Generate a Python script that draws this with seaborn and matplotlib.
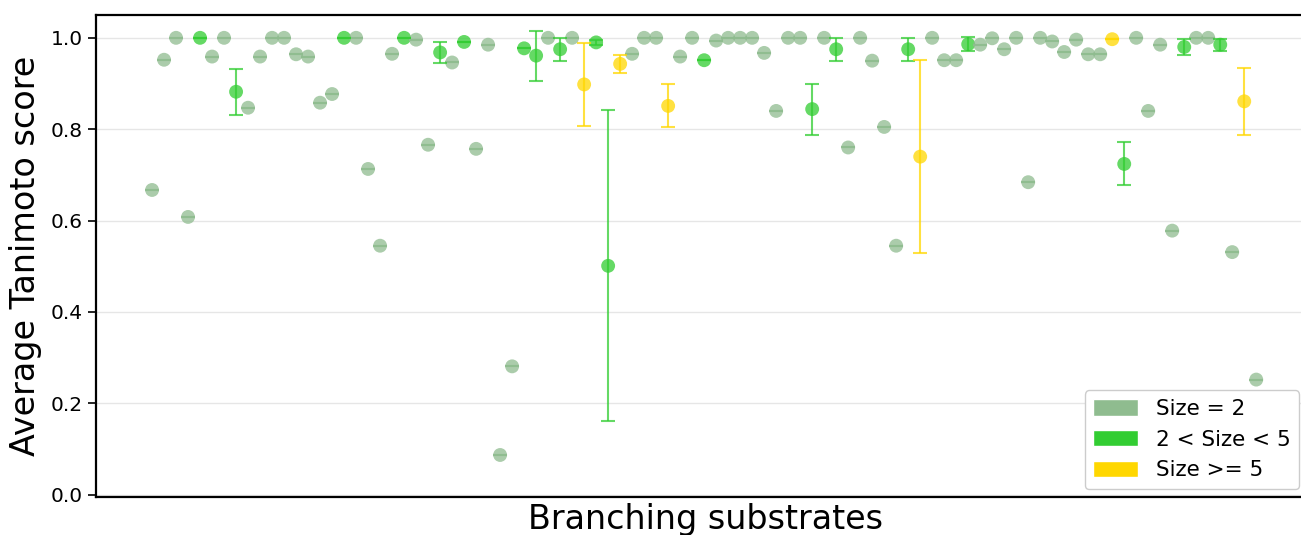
import seaborn as sns
import numpy as np
import pandas as pd
import matplotlib.pyplot as plt
from matplotlib.patches import Patch

# average score per branching substrate, in plotting order
scores = [0.667, 0.952, 1.0, 0.608, 1.0, 0.959, 1.0, 0.882, 0.847, 0.959,
          1.0, 1.0, 0.964, 0.959, 0.858, 0.877, 1.0, 1.0, 0.713, 0.545,
          0.965, 1.0, 0.996, 0.766, 0.968, 0.946, 0.991, 0.757, 0.985, 0.087,
          0.281, 0.977, 0.961, 1.0, 0.975, 1.0, 0.898, 0.99, 0.501, 0.943,
          0.965, 1.0, 1.0, 0.851, 0.959, 1.0, 0.951, 0.994, 1.0, 1.0,
          1.0, 0.967, 0.840, 1.0, 1.0, 0.844, 1.0, 0.975, 0.760, 1.0,
          0.950, 0.805, 0.545, 0.975, 0.740, 1.0, 0.951, 0.951, 0.986, 0.985,
          0.999, 0.975, 1.0, 0.684, 1.0, 0.992, 0.969, 0.996, 0.964, 0.964,
          0.997, 0.724, 1.0, 0.840, 0.985, 0.578, 0.98, 1.0, 1.0, 0.985,
          0.531, 0.861, 0.252]

# standard deviation (error bar half length)
errs = [0, 0, 0, 0, 0, 0, 0, 0.05, 0, 0,
        0, 0, 0, 0, 0, 0, 0, 0, 0, 0,
        0, 0, 0, 0, 0.023, 0, 0, 0, 0, 0,
        0, 0, 0.055, 0, 0.025, 0, 0.09, 0.005, 0.34, 0.02,
        0, 0, 0, 0.047, 0, 0, 0, 0, 0, 0,
        0, 0, 0, 0, 0, 0.056, 0, 0.025, 0, 0,
        0, 0, 0, 0.025, 0.211, 0, 0, 0, 0.015, 0,
        0, 0, 0, 0, 0, 0, 0, 0, 0, 0,
        0, 0.047, 0, 0, 0, 0, 0.017, 0, 0, 0.013,
        0, 0.073, 0]

# 0: size = 2, 1: 2 < size < 5, 2: size >= 5
groups = [0, 0, 0, 0, 1, 0, 0, 1, 0, 0,
          0, 0, 0, 0, 0, 0, 1, 0, 0, 0,
          0, 1, 0, 0, 1, 0, 1, 0, 0, 0,
          0, 1, 1, 0, 1, 0, 2, 1, 1, 2,
          0, 0, 0, 2, 0, 0, 1, 0, 0, 0,
          0, 0, 0, 0, 0, 1, 0, 1, 0, 0,
          0, 0, 0, 1, 2, 0, 0, 0, 1, 0,
          0, 0, 0, 0, 0, 0, 0, 0, 0, 0,
          2, 1, 0, 0, 0, 0, 1, 0, 0, 1,
          0, 2, 0]

labels = ["Size = 2", "2 < Size < 5", "Size >= 5"]
colors = ["#8FBC8F", "#32CD32", "#FFD700"]

df = pd.DataFrame({"idx": np.arange(len(scores)), "score": scores,
                   "err": errs, "group": [labels[g] for g in groups]})

sns.set_style("white")
plt.rcParams['font.family'] = ['DejaVu Sans']
plt.rcParams['text.color'] = 'black'
plt.rcParams['axes.labelcolor'] = 'black'
plt.rcParams['ytick.color'] = 'black'

fig = plt.figure(figsize=(13.01, 5.35), dpi=100)
ax = fig.add_axes([0.0738, 0.0710, 0.937, 0.901])

pal = dict(zip(labels, colors))
sns.scatterplot(data=df, x="idx", y="score", hue="group", palette=pal,
                s=100, alpha=0.75, edgecolor="none", legend=False, ax=ax, zorder=3)
for lab in labels:
    sub = df[df["group"] == lab]
    ax.errorbar(sub["idx"], sub["score"], yerr=sub["err"], fmt="none",
                ecolor=pal[lab], elinewidth=1.5, capsize=5, capthick=1.5,
                alpha=0.75, zorder=4)

ax.set_xlim(-4.67, 96.9)
ax.set_ylim(-0.005, 1.05)
ax.set_yticks([0.0, 0.2, 0.4, 0.6, 0.8, 1.0])
ax.set_xticks([])
ax.yaxis.grid(True, color="#e6e6e6", linewidth=1)
ax.set_axisbelow(True)
ax.tick_params(axis="y", labelsize=14.5, length=6, width=1.2, left=True)
for sp in ax.spines.values():
    sp.set_linewidth(1.6)
    sp.set_color("black")

ax.set_xlabel("Branching substrates", fontsize=24, labelpad=4)
ax.set_ylabel("Average Tanimoto score", fontsize=24, labelpad=6)

handles = [Patch(facecolor=c, label=l) for c, l in zip(colors, labels)]
ax.legend(handles=handles, loc="lower right", bbox_to_anchor=(1299 / 1301, 1 - 489 / 535),
          bbox_transform=fig.transFigure, borderaxespad=0, fontsize=15.5,
          handlelength=2.1, handleheight=0.8, framealpha=1)

plt.savefig("out.png", dpi=100)
